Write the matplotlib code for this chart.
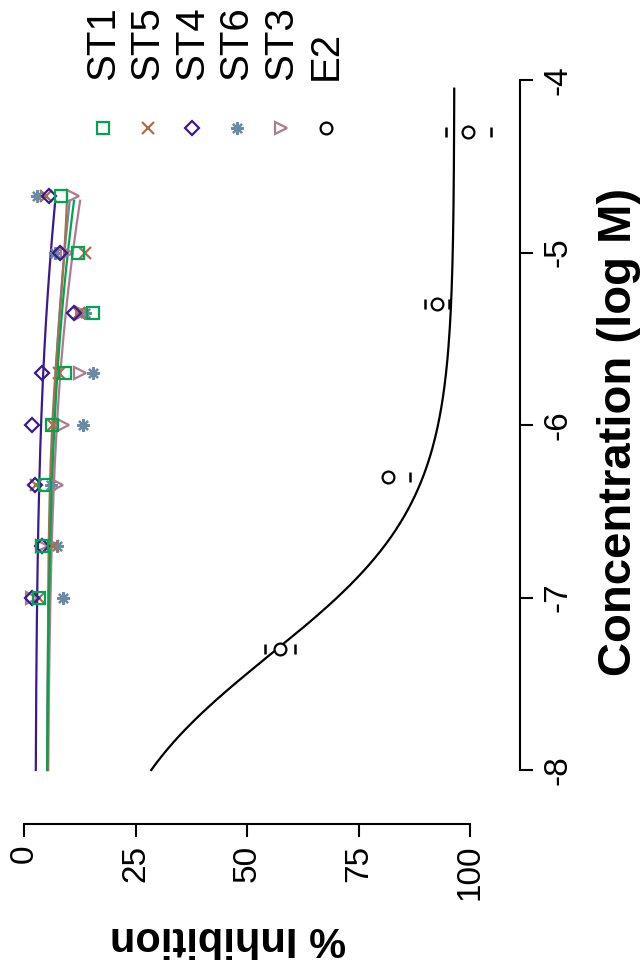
import numpy as np
import matplotlib
matplotlib.use("Agg")
import matplotlib.pyplot as plt

plt.rcParams['font.family'] = ['Liberation Sans', 'DejaVu Sans']
plt.rcParams['axes.unicode_minus'] = False

# log molar concentrations of the test compounds
conc = [-7.0, -6.7, -6.35, -6.0, -5.7, -5.35, -5.0, -4.67]

# % inhibition for each compound
st1 = [3.4, 4.0, 4.7, 6.2, 9.3, 15.5, 12.1, 8.3]
st5 = [3.4, 6.6, 2.7, 6.5, 7.9, 12.4, 13.7, 4.9]
st4 = [1.7, 4.0, 2.5, 1.9, 4.1, 11.2, 8.1, 5.6]
st6 = [8.8, 7.3, 6.0, 13.3, 15.4, 13.7, 7.0, 2.9]
st3 = [1.7, 4.0, 7.3, 8.8, 12.6, 13.0, 9.6, 11.0]

# estradiol reference, mean with SEM (lower bar missing at -6.3)
conc_e2 = [-7.3, -6.3, -5.3, -4.3]
e2 = [57.4, 81.6, 92.6, 99.6]
e2_err_lo = [3.3, np.nan, 2.7, 5.0]
e2_err_hi = [3.3, 4.9, 2.7, 5.0]

# 4PL fits: bottom, top, logEC50, hill
fit_st1 = (5.0, 25.1, -4.0, 0.5)
fit_st5 = (5.3, 10.5, -5.4, 1.0)
fit_st4 = (2.5, 17.1, -4.0, 0.5)
fit_st6 = (5.0, 22.0, -4.0, 0.5)
fit_st3 = (5.2, 29.1, -4.0, 0.5)
fit_e2 = (14.0, 96.5, -7.33, 1.0)

names = ['ST1', 'ST5', 'ST4', 'ST6', 'ST3', 'E2']
colors = ['#00A550', '#A86F4F', '#3B1A8E', '#6B8BA4', '#B07A8E', '#000000']
markers = ['s', 'x', 'D', (8, 2, 0), '>', 'o']
msizes = [8.5, 8.5, 7.0, 9.0, 9.0, 8.5]


def four_pl(x, bottom, top, logec50, hill):
    return bottom + (top - bottom) / (1 + 10 ** ((logec50 - x) * hill))


W, H = 644, 971
fig = plt.figure(figsize=(W / 100, H / 100), dpi=100)
# plot box: right edge on the concentration axis, bottom on the inhibition axis
ax = fig.add_axes([0, 1 - 824 / H, 520 / W, 824 / H])
ax.set_xlim(-5.38, 111.2)
ax.set_ylim(-8.313, -3.536)

x_st = np.linspace(-8.0, -4.7, 200)
x_e2 = np.linspace(-8.0, -4.05, 200)

# fitted curves, drawn underneath the points
for fit, col in [(fit_st6, colors[3]), (fit_st3, colors[4]), (fit_st5, colors[1]),
                 (fit_st1, colors[0]), (fit_st4, colors[2])]:
    ax.plot(four_pl(x_st, *fit), x_st, color=col, lw=1.6)
ax.plot(four_pl(x_e2, *fit_e2), x_e2, color='black', lw=1.6)

series = {'ST1': st1, 'ST5': st5, 'ST4': st4, 'ST6': st6, 'ST3': st3}
for name in ['ST6', 'ST3', 'ST5', 'ST4', 'ST1']:
    i = names.index(name)
    ax.plot(series[name], conc, ls='none', marker=markers[i], ms=msizes[i],
            mfc='none', mec=colors[i], mew=1.6, clip_on=False)

eb = ax.errorbar(e2, conc_e2, xerr=[e2_err_lo, e2_err_hi], fmt='none',
                 ecolor='black', capsize=3.6, capthick=1.8)
eb[2][0].set_visible(False)
ax.plot(e2, conc_e2, ls='none', marker='o', ms=8.5, mfc='white',
        mec='black', mew=1.6)

# axes drawn only over the tick range
for side in ['left', 'top']:
    ax.spines[side].set_visible(False)
ax.spines['bottom'].set_bounds(0, 100)
ax.spines['right'].set_bounds(-8, -4)
for side in ['bottom', 'right']:
    ax.spines[side].set_linewidth(1.5)

ax.yaxis.tick_right()
ax.set_xticks([0, 25, 50, 75, 100])
ax.set_yticks([-8, -7, -6, -5, -4])
ax.tick_params(axis='both', direction='out', length=9, width=1.5, labelsize=24)
ax.tick_params(axis='x', pad=6, labelrotation=90)
ax.tick_params(axis='y', pad=7, labelrotation=90)
for lab in ax.get_yticklabels():
    lab.set_verticalalignment('center')

ax.set_xlabel('% Inhibition', fontsize=30, fontweight='bold', rotation=180)
ax.xaxis.set_label_coords(228 / 520, -114 / 824)
ax.xaxis.label.set_va('center')
ax.yaxis.set_label_position('right')
ax.set_ylabel('Concentration (log M)', fontsize=34, fontweight='bold', rotation=90)
ax.yaxis.set_label_coords(619 / 520, 392 / 824)
ax.yaxis.label.set_va('center')

# legend laid out as columns of marker + rotated label
x0, step = 103, 44.5
for i, name in enumerate(names):
    xa = (x0 + i * step) / 520
    ax.plot([xa], [(824 - 128) / 824], transform=ax.transAxes, ls='none',
            marker=markers[i], ms=msizes[i], mfc='none', mec=colors[i],
            mew=1.6, clip_on=False)
    ax.text(xa, (824 - 80) / 824, name, transform=ax.transAxes, rotation=90,
            ha='center', va='bottom', fontsize=29)

fig.savefig('out.png', dpi=100)
